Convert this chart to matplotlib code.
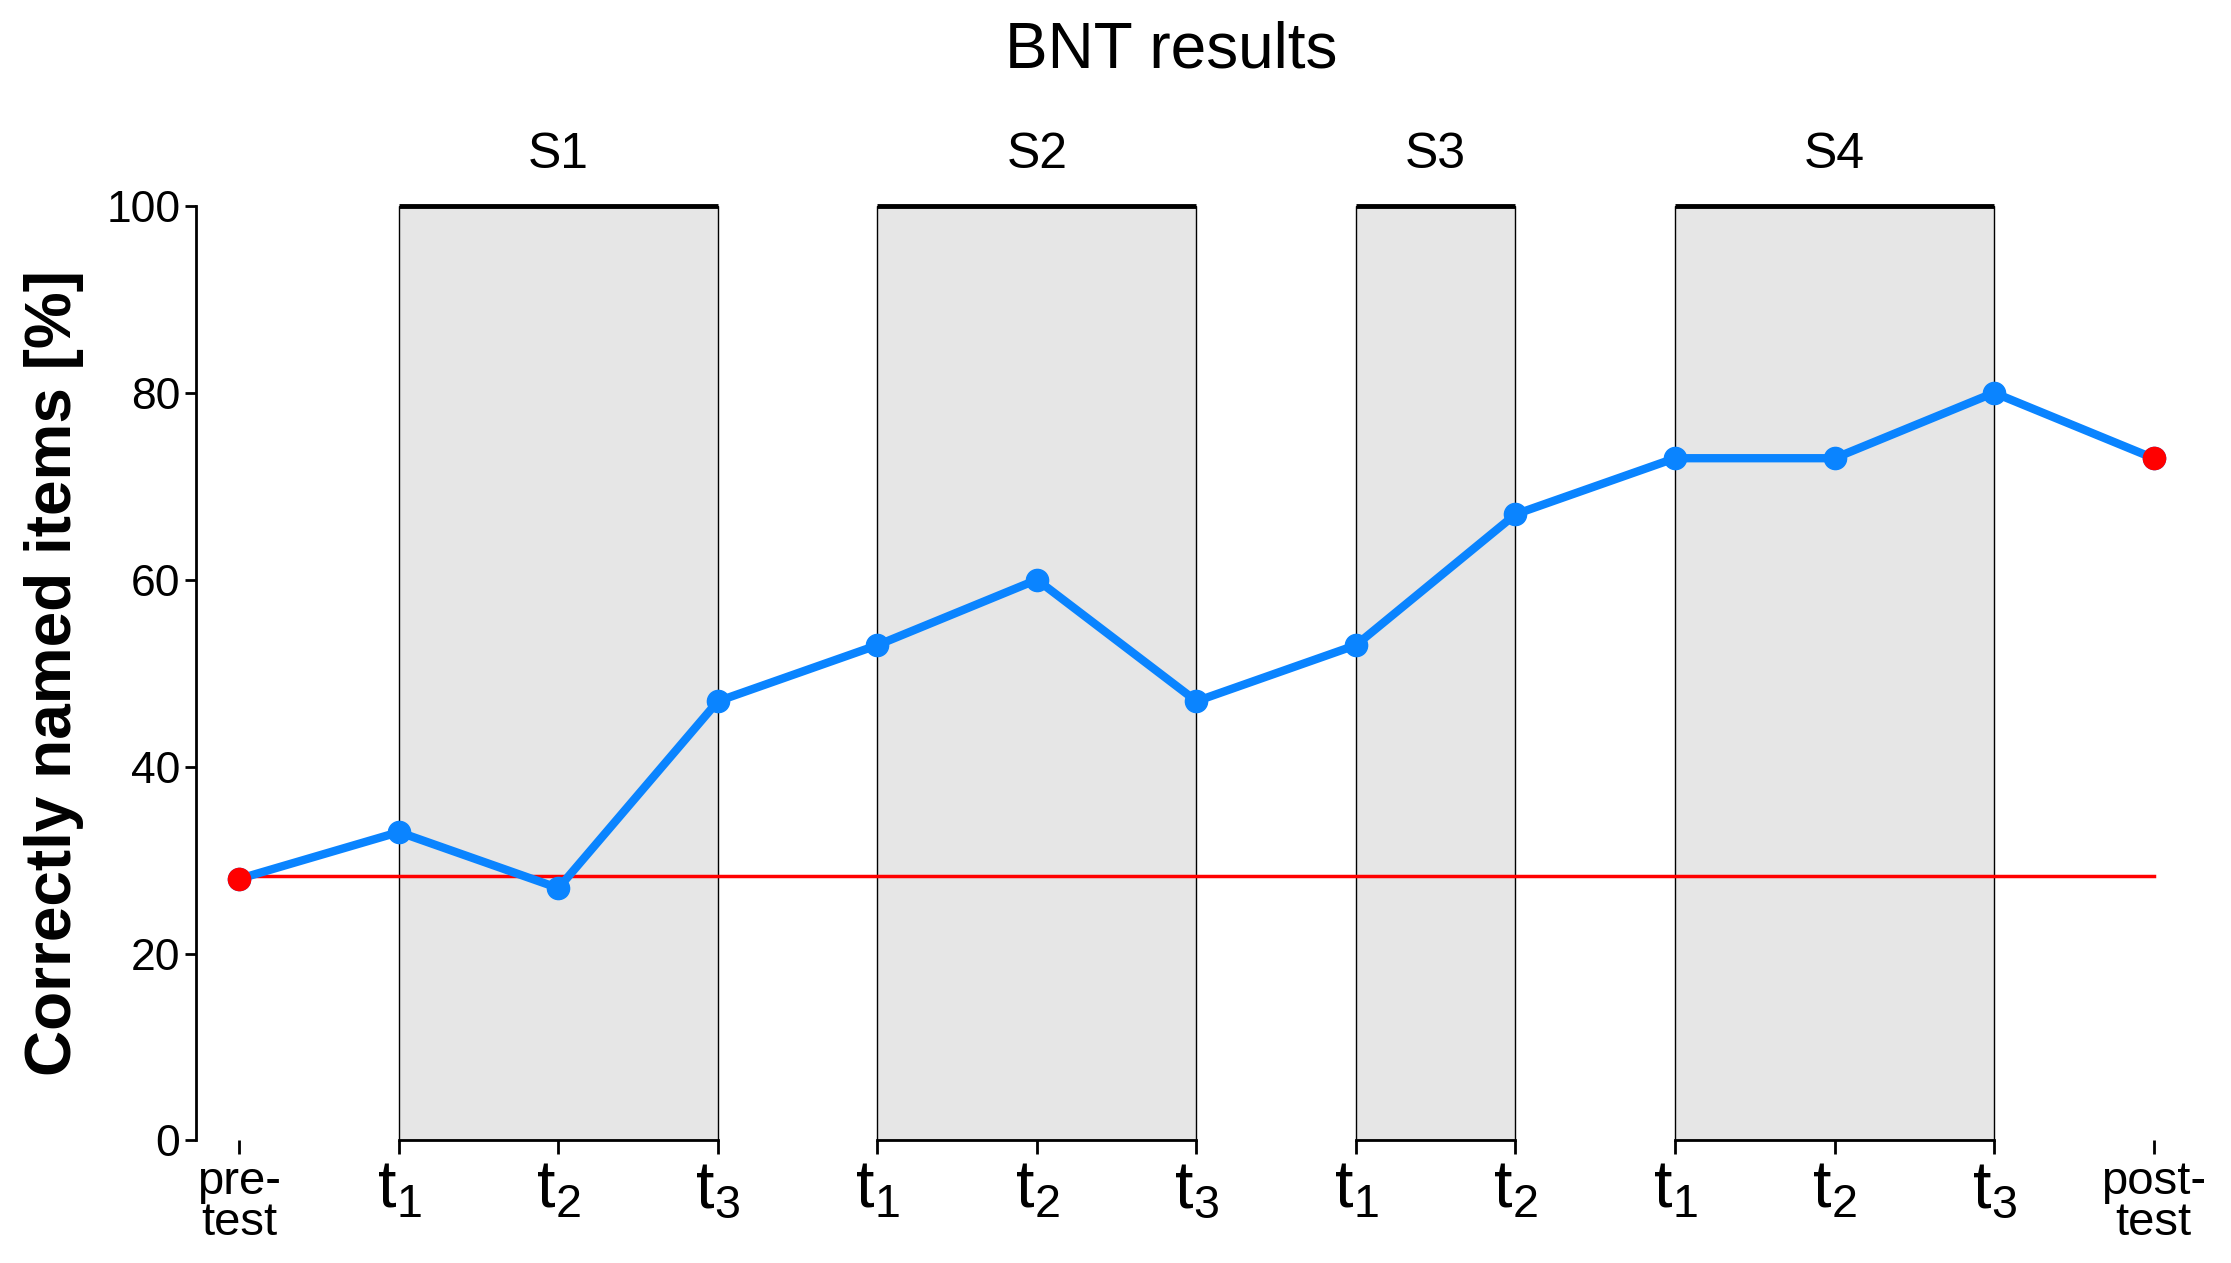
import matplotlib
matplotlib.use("Agg")
import matplotlib.pyplot as plt

labels = ["pre-\ntest", "t$_1$", "t$_2$", "t$_3$", "t$_1$", "t$_2$", "t$_3$", "t$_1$", "t$_2$", "t$_1$", "t$_2$", "t$_3$", "post-\ntest"]
values = [28, 33, 27, 47, 53, 60, 47, 53, 67, 73, 73, 80, 73]
baseline = 28.3
sessions = ["S1", "S2", "S3", "S4"]
session_span = [(1, 3), (4, 6), (7, 8), (9, 11)]

plt.rcParams['font.family'] = ['Liberation Sans', 'DejaVu Sans']
plt.rcParams['mathtext.fontset'] = 'custom'
plt.rcParams['mathtext.rm'] = 'Liberation Sans'
plt.rcParams['mathtext.it'] = 'Liberation Sans'
plt.rcParams['mathtext.default'] = 'regular'
fig = plt.figure(figsize=(22.31, 12.63), dpi=100)
ax = fig.add_axes([0.088, 0.097, 0.888, 0.74])
x = list(range(len(values)))
for (a, b), s in zip(session_span, sessions):
    ax.axvspan(a, b, ymin=0, ymax=1, facecolor="#e6e6e6", edgecolor="black", lw=1)
    ax.plot([a, b], [100, 100], color="black", lw=3.5, clip_on=False, solid_capstyle="butt")
    ax.text((a + b) / 2, 103, s, ha="center", va="bottom", fontsize=36)
    ax.plot([a, b], [0, 0], color="black", lw=2, clip_on=False)
ax.plot([0, 12], [baseline, baseline], color="red", lw=2.5)
ax.plot(x, values, color="#0a84ff", lw=6, marker="o", ms=16, zorder=3)
ax.plot([0, 12], [values[0], values[-1]], "o", color="red", ms=16, zorder=4, ls="none")
ax.set_xlim(-0.27, 12.15)
ax.set_ylim(0, 100)
ax.set_yticks(range(0, 101, 20))
ax.tick_params(axis="y", labelsize=32, length=8, width=2)
ax.set_xticks(x)
ax.set_xticklabels(labels)
for i, t in enumerate(ax.get_xticklabels()):
    t.set_fontsize(34 if i in (0, 12) else 48)
    t.set_linespacing(0.9)
ax.tick_params(axis="x", length=10, width=2, pad=4)
for sp in ["top", "right", "bottom"]:
    ax.spines[sp].set_visible(False)
ax.spines["left"].set_linewidth(2)
ax.set_ylabel("Correctly named items [%]", fontsize=46, fontweight="bold", labelpad=16)
fig.text(0.525, 0.96, "BNT results", ha="center", va="center", fontsize=46)
fig.savefig("out.png", dpi=100)
